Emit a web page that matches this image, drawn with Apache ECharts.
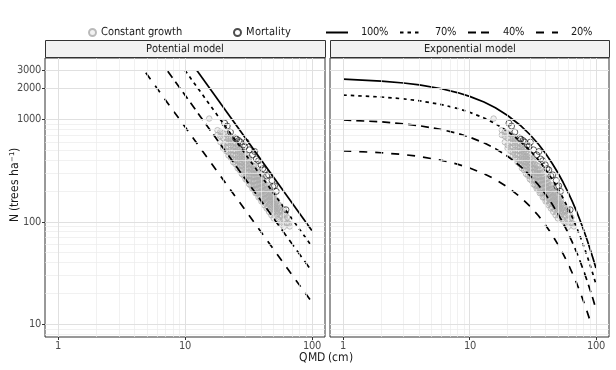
<!DOCTYPE html>
<html>
<head>
<meta charset="utf-8">
<script src="https://cdn.jsdelivr.net/npm/echarts@6/dist/echarts.min.js"></script>
<style>
@font-face {
  font-family: 'NarrowSans';
  src: local('Liberation Sans Narrow'), local('LiberationSansNarrow-Regular'), local('Arial Narrow'),
       local('DejaVu Sans Condensed'), local('DejaVuSansCondensed');
}
html, body { margin: 0; padding: 0; background: #fff; }
#chart { width: 616px; height: 370px; }
</style>
</head>
<body>
<div id="chart"></div>
<script>
// plot data, [QMD (cm), N (trees/ha)]
var growthPoints = [
  [15.5,1018],
  [18,704],[18,783],
  [19,599],[19,685],[19,756],
  [20,522],[20,562],[20,653],[20,731],
  [21,492],[21,528],[21,600],[21,661],[21,721],
  [22,444],[22,477],[22,532],[22,588],[22,643],[22,688],
  [23,421],[23,452],[23,503],[23,555],[23,606],[23,657],
  [24,382],[24,410],[24,448],[24,496],[24,534],[24,582],[24,630],
  [25,365],[25,400],[25,445],[25,490],[25,534],[25,579],
  [26,333],[26,358],[26,391],[26,424],[26,458],[26,499],[26,532],[26,566],
  [27,319],[27,351],[27,382],[27,413],[27,444],[27,483],[27,514],
  [28,293],[28,322],[28,351],[28,381],[28,410],[28,439],[28,476],[28,512],
  [29,282],[29,317],[29,345],[29,372],[29,400],[29,434],[29,462],
  [30,260],[30,280],[30,306],[30,332],[30,358],[30,384],[30,416],[30,449],
  [31,252],[31,277],[31,308],[31,338],[31,369],[31,406],
  [32,233],[32,256],[32,279],[32,303],[32,332],[32,361],[32,390],[32,419],
  [33,226],[33,254],[33,282],[33,309],[33,337],[33,364],
  [34,210],[34,225],[34,246],[34,272],[34,299],[34,325],[34,356],
  [35,205],[35,225],[35,250],[35,274],[35,299],[35,324],[35,349],
  [36,190],[36,209],[36,228],[36,252],[36,276],[36,299],[36,323],
  [37,190],[37,208],[37,231],[37,254],[37,276],[37,299],
  [38,173],[38,191],[38,212],[38,234],[38,255],[38,277],[38,303],
  [39,174],[39,195],[39,215],[39,236],[39,257],[39,277],
  [40,158],[40,178],[40,198],[40,218],[40,238],[40,261],
  [41,160],[41,179],[41,198],[41,217],[41,239],[41,262],
  [42,146],[42,168],[42,186],[42,204],[42,223],[42,241],
  [43,151],[43,168],[43,186],[43,204],[43,225],
  [44,135],[44,155],[44,172],[44,189],[44,209],[44,229],
  [45,139],[45,159],[45,175],[45,194],[45,211],
  [46,125],[46,147],[46,162],[46,178],[46,197],
  [47,132],[47,150],[47,166],[47,184],[47,202],
  [48,116],[48,139],[48,157],[48,174],[48,191],
  [49,123],[49,143],[49,160],[49,176],
  [50,108],[50,132],[50,149],[50,165],[50,184],
  [51,136],[51,151],[51,167],
  [52,113],[52,126],[52,141],[52,156],
  [53,129],[53,144],[53,161],
  [54,106],[54,120],[54,135],[54,149],
  [55,124],[55,137],
  [56,100],[56,115],[56,129],[56,144],
  [58,94],[58,115],[58,127],
  [60,89],[60,104],[60,118],[60,132],
  [62,105],[62,118],
  [64,97],[64,110],
  [66,96],[67,90]
]
var mortalityPoints = [
  [20.5,918],[21.5,860],[22.8,750],[24.9,656],[25.5,640],[26.5,621],[27.3,600],
  [28.7,563],[29.5,540],[30.3,600],[32.1,504],[34,450],[35.4,485],[36.5,410],
  [38,394],[39.7,360],[41,330],[42.4,321],[44,280],[45.6,287],[48.5,253],
  [49.2,221],[50.8,224],[52.4,198],[62.5,131]
]

// potential model lines (straight on log-log), start and end points
var potential100 = [[12.4,3000],[100,82]]
var potential70 = [[10.0,3000],[100,57.5]]
var potential40 = [[7.3,2950],[100,32.8]]
var potential20 = [[4.9,2850],[100,16.4]]

// exponential model curves
var expQmd = [1,2,3,4,6,8,10,13,16,20,25,30,35,40,45,50,55,60,65,70,75,80,85,90,95,100]
var exp100 = [2466,2362,2263,2168,1990,1826,1676,1474,1296,1091,881,711,574,463,373,301,243,196,158,128,103,83,67,54,43.7,35.3]
var exp70 = [1726,1653,1584,1518,1393,1278,1173,1032,907,764,617,498,402,324,261,211,170,137,111,89.6,72.1,58.1,46.9,37.8,30.6,24.7]
var exp40 = [986,945,905,867,796,730,670,590,518,436,352,284,230,185,149,120,97.2,78.4,63.2,51.2,41.2,33.2,26.8,21.6,17.5,14.1]
var exp20 = [493,472,453,434,398,365,335,295,259,218,176,142,115,92.6,74.6,60.2,48.6,39.2,31.6,25.6,20.6,16.6,13.4,10.8]

var xTicks = [1,10,100]
var yTicks = [10,100,1000,2000,3000]
var xMinor = [2,3,4,5,6,7,8,9,20,30,40,50,60,70,80,90]
var yMinor = [8,9,20,30,40,50,60,70,80,90,200,300,400,500,600,700,800,900]

var levels = [
  {name: '100%', dash: 'solid'},
  {name: '70%', dash: [3.5, 4]},
  {name: '40%', dash: [8, 5]},
  {name: '20%', dash: [8, 8]}
]

function zip(xs, ys) {
  return ys.map(function (y, i) { return [xs[i], y] })
}

// is the condensed face really there? compare against monospace
function hasNarrow() {
  var ctx = document.createElement('canvas').getContext('2d')
  ctx.font = '11px monospace'
  var a = ctx.measureText('Constant growth 3000').width
  ctx.font = '11px NarrowSans, monospace'
  return ctx.measureText('Constant growth 3000').width !== a
}

function draw() {
  var narrow = hasNarrow()
  var font = narrow ? 'NarrowSans, sans-serif' : 'Roboto, sans-serif'
  var fs = narrow ? 11 : 10

  function gridLines(g) {
    var data = []
    xMinor.forEach(function (v) { data.push({xAxis: v, lineStyle: {color: '#ebebeb', width: 0.7, type: 'solid'}}) })
    yMinor.forEach(function (v) { data.push({yAxis: v, lineStyle: {color: '#ebebeb', width: 0.7, type: 'solid'}}) })
    xTicks.forEach(function (v) { data.push({xAxis: v, lineStyle: {color: '#e0e0e0', width: 1, type: 'solid'}}) })
    yTicks.forEach(function (v) { data.push({yAxis: v, lineStyle: {color: '#e0e0e0', width: 1, type: 'solid'}}) })
    return {
      type: 'line', xAxisIndex: g, yAxisIndex: g, data: [], silent: true, z: 1,
      markLine: {silent: true, symbol: ['none', 'none'], label: {show: false}, animation: false, data: data}
    }
  }

  function panelSeries(g, curves) {
    var out = [gridLines(g)]
    out.push({
      name: 'Constant growth', type: 'scatter', xAxisIndex: g, yAxisIndex: g, z: 2,
      symbol: 'circle', symbolSize: 5.5, data: growthPoints,
      itemStyle: {color: 'rgba(190,190,190,0.25)', borderColor: '#aaaaaa', borderWidth: 0.9}
    })
    out.push({
      name: 'Mortality', type: 'scatter', xAxisIndex: g, yAxisIndex: g, z: 3,
      symbol: 'circle', symbolSize: 6, data: mortalityPoints,
      itemStyle: {color: 'rgba(0,0,0,0)', borderColor: '#222', borderWidth: 0.9}
    })
    curves.forEach(function (c, i) {
      out.push({
        name: levels[i].name, type: 'line', xAxisIndex: g, yAxisIndex: g, z: 4,
        data: c, symbol: 'none', showSymbol: false,
        itemStyle: {color: '#000'},
        lineStyle: {color: '#000', width: 1.7, type: levels[i].dash}
      })
    })
    return out
  }

  function xAxisFor(g) {
    return {
      type: 'log', gridIndex: g, min: 0.785, max: 127,
      axisLine: {show: false},
      axisTick: {show: true, customValues: xTicks, length: 3, lineStyle: {color: '#333'}},
      axisLabel: {customValues: xTicks, color: '#4d4d4d', fontSize: fs, margin: 4, fontFamily: font,
        formatter: function (v) { return String(v) }},
      splitLine: {show: false}
    }
  }

  function yAxisFor(g) {
    return {
      type: 'log', gridIndex: g, min: 7.5, max: 3970,
      axisLine: {show: false},
      axisTick: {show: g === 0, customValues: yTicks, length: 3, lineStyle: {color: '#333'}},
      axisLabel: {show: g === 0, customValues: yTicks, color: '#4d4d4d', fontSize: fs, margin: 4, fontFamily: font,
        formatter: function (v) { return String(v) }},
      splitLine: {show: false}
    }
  }

  function strip(x, w, label) {
    return [
      {type: 'rect', shape: {x: x + 0.5, y: 40.5, width: w, height: 17}, style: {fill: '#f2f2f2', stroke: '#333', lineWidth: 1}},
      {type: 'text', x: x + w / 2, y: 49.5, style: {text: label, font: fs + 'px ' + font, fill: '#1a1a1a', textAlign: 'center', textVerticalAlign: 'middle'}}
    ]
  }

  var chart = echarts.init(document.getElementById('chart'), null, {renderer: 'canvas'})

  var option = {
    animation: false,
    backgroundColor: '#fff',
    grid: [
      {left: 45, top: 58, width: 280, height: 279, show: true, borderColor: '#333', borderWidth: 1, backgroundColor: '#fff'},
      {left: 330, top: 58, width: 279, height: 279, show: true, borderColor: '#333', borderWidth: 1, backgroundColor: '#fff'}
    ],
    legend: [
      {
        data: ['Constant growth', 'Mortality'], left: 83, top: 22, itemWidth: 7, itemHeight: 7, itemGap: 51,
        textStyle: {fontFamily: font, fontSize: fs, color: '#1a1a1a'}
      },
      {
        data: levels.map(function (l) { return l.name }), left: 320, top: 22, width: 295,
        itemWidth: 22, itemHeight: 10, itemGap: 11,
        itemStyle: {opacity: 0},
        textStyle: {fontFamily: font, fontSize: fs, color: '#1a1a1a', padding: [0, 0, 0, 8]}
      }
    ],
    xAxis: [xAxisFor(0), xAxisFor(1)],
    yAxis: [yAxisFor(0), yAxisFor(1)],
    series: panelSeries(0, [potential100, potential70, potential40, potential20]).concat(
      panelSeries(1, [zip(expQmd, exp100), zip(expQmd, exp70), zip(expQmd, exp40), zip(expQmd, exp20)])
    ),
    graphic: strip(45, 280, 'Potential model').concat(strip(330, 279, 'Exponential model')).concat([
      {type: 'text', x: 326, y: 358, style: {text: 'QMD (cm)', font: (fs + 0.5) + 'px ' + font, fill: '#1a1a1a', textAlign: 'center', textVerticalAlign: 'middle'}},
      {type: 'text', x: 15, y: 185, rotation: Math.PI / 2, style: {text: 'N (trees ha\u207B\u00B9)', font: (fs + 0.5) + 'px ' + font, fill: '#1a1a1a', textAlign: 'center', textVerticalAlign: 'middle'}}
    ])
  }

  option && chart.setOption(option)
}

document.fonts.load('11px NarrowSans').then(draw, draw)
</script>
</body>
</html>
